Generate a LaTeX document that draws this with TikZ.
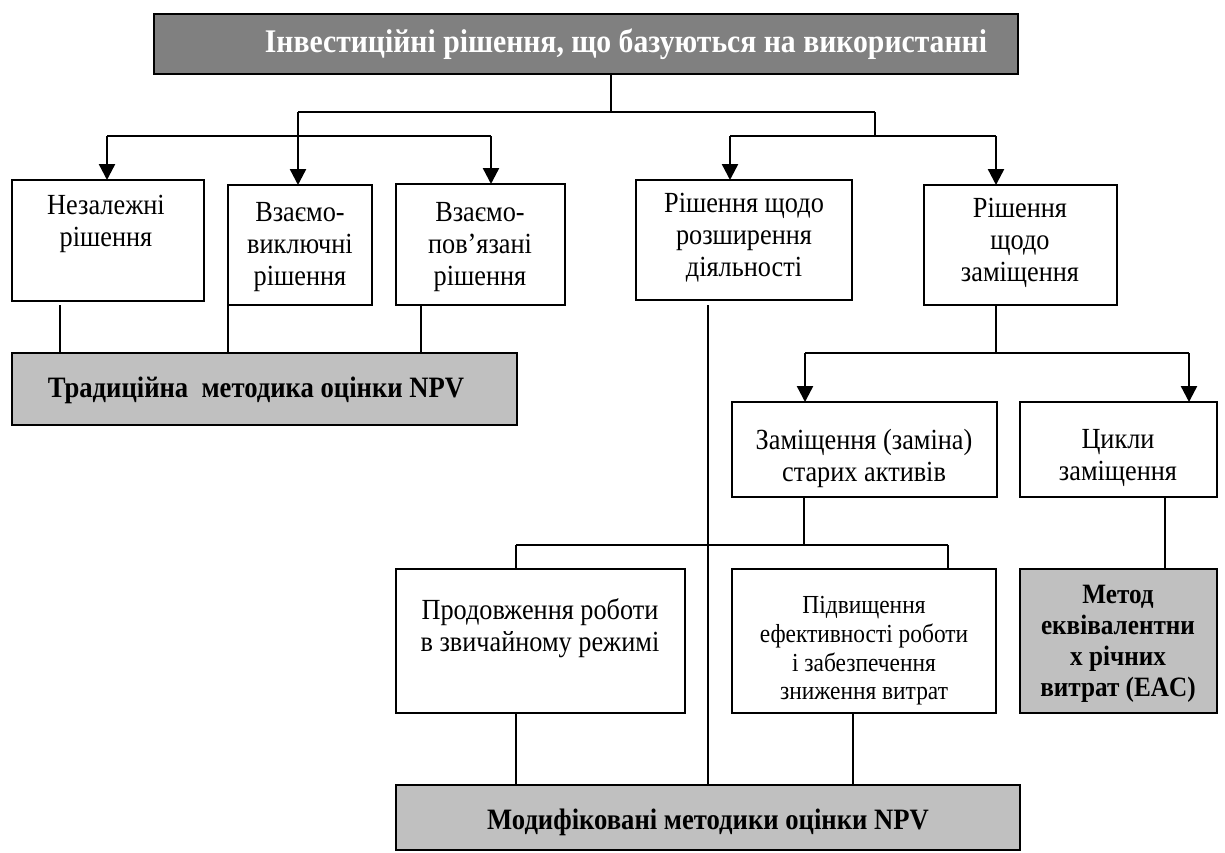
\documentclass[tikz,border=0pt]{standalone}
\usepackage{fontspec}
\setmainfont{Liberation Serif}[FakeStretch=0.9]
\usetikzlibrary{arrows.meta,calc}
\definecolor{darkfill}{HTML}{808080}
\definecolor{lightfill}{HTML}{C0C0C0}

\begin{document}
\begin{tikzpicture}[x=0.5pt,y=-0.5pt,
  box/.style={draw, line width=1.1pt, anchor=north west, inner sep=0pt, outer sep=0pt},
  conn/.style={line width=1pt},
  arr/.style={line width=1.2pt, -{Triangle[length=8pt,width=8pt]}},
  txt/.style={align=center, inner sep=0pt, font=\fontsize{14.6}{16}\selectfont},
  smalltxt/.style={align=center, inner sep=0pt, font=\fontsize{13}{14.3}\selectfont},
  btxt/.style={align=center, inner sep=0pt, font=\fontsize{14.8}{16}\selectfont\bfseries}
]
\useasboundingbox (0,0) rectangle (1225,852);

% ---- boxes ----
\node[box, fill=darkfill, minimum width=432pt, minimum height=30pt] (T) at (154,14) {};
\node[box, minimum width=96pt,  minimum height=60.5pt] (nez) at (12,180) {};
\node[box, minimum width=72pt,  minimum height=60pt]   (vyk) at (228,185) {};
\node[box, minimum width=84.5pt,minimum height=60.5pt] (pov) at (396,184) {};
\node[box, minimum width=108pt, minimum height=60pt]   (roz) at (636,180) {};
\node[box, minimum width=96.5pt,minimum height=60pt]   (zam) at (924,185) {};
\node[box, fill=lightfill, minimum width=252.5pt, minimum height=36pt] (trad) at (12,353) {};
\node[box, minimum width=132.5pt, minimum height=47.5pt] (zz)  at (732,402) {};
\node[box, minimum width=98.5pt,  minimum height=47.5pt] (cyk) at (1020,402) {};
\node[box, minimum width=144.5pt, minimum height=72pt]   (prod) at (396,569) {};
\node[box, minimum width=132pt,   minimum height=72pt]   (pidv) at (732,569) {};
\node[box, fill=lightfill, minimum width=98.5pt, minimum height=72pt] (eac) at (1020,569) {};
\node[box, fill=lightfill, minimum width=312pt, minimum height=32.5pt] (mod) at (396,785) {};

% ---- texts ----
\node[align=center, inner sep=0pt, text=white, font=\fontsize{16.5}{18}\selectfont\bfseries] (tT) at (626,44)
  {Інвестиційні рішення, що базуються на використанні};
\node[txt] (tnez) at (106,224) {Незалежні\\рішення};
\node[txt] (tvyk) at (300,247) {Взаємо-\\виключні\\рішення};
\node[txt] (tpov) at (480,247) {Взаємо-\\пов’язані\\рішення};
\node[txt] (troz) at (744,238) {Рішення щодо\\розширення\\діяльності};
\node[txt] (tzam) at (1020,243) {Рішення\\щодо\\заміщення};
\node[btxt] (ttrad) at (256,390) {Традиційна\ \ методика оцінки NPV};
\node[txt] (tzz) at (864,458) {Заміщення (заміна)\\старих активів};
\node[txt] (tcyk) at (1118,458) {Цикли\\заміщення};
\node[txt] (tprod) at (540,628) {Продовження роботи\\в звичайному режимі};
\node[smalltxt] (tpidv) at (864,651) {Підвищення\\ефективності роботи\\і забезпечення\\зниження витрат};
\node[align=center, inner sep=0pt, font=\fontsize{14}{15.5}\selectfont\bfseries] (teac) at (1118,644)
  {Метод\\еквівалентни\\х річних\\витрат (EAC)};
\node[btxt] (tmod) at (708,822) {Модифіковані методики оцінки NPV};

% ---- first level branching ----
\coordinate (j0) at (611,112);
\coordinate (jL) at (298,112);
\coordinate (jR) at (875,112);
\draw[conn] (T.south -| j0) -- (j0);
\draw[conn] (jL) -- (jR);
\coordinate (hL) at (298,136);
\coordinate (a1) at (107,136);
\coordinate (a3) at (491,136);
\draw[conn] (jL) -- (hL);
\draw[conn] (a1) -- (a3);
\draw[arr] (a1) -- (a1 |- nez.north);
\draw[arr] (hL) -- (hL |- vyk.north);
\draw[arr] (a3) -- (a3 |- pov.north);
\coordinate (hR) at (875,136);
\coordinate (a4) at (730,136);
\coordinate (a5) at (996,136);
\draw[conn] (jR) -- (hR);
\draw[conn] (a4) -- (a5);
\draw[arr] (a4) -- (a4 |- roz.north);
\draw[arr] (a5) -- (a5 |- zam.north);

% ---- links to the traditional method ----
\coordinate (b1) at (60,305);
\draw[conn] (b1) -- (b1 |- trad.north);
\draw[conn] (vyk.south west) -- (vyk.south west |- trad.north);
\coordinate (b3) at (421,0);
\draw[conn] (pov.south -| b3) -- (trad.north -| b3);

% ---- replacement branch ----
\coordinate (hZ) at (996,353);
\coordinate (a6) at (805,353);
\coordinate (a7) at (1189,353);
\draw[conn] (zam.south -| hZ) -- (hZ);
\draw[conn] (a6) -- (a7);
\draw[arr] (a6) -- (a6 |- zz.north);
\draw[arr] (a7) -- (a7 |- cyk.north);

\coordinate (hZZ) at (804,545);
\coordinate (a8) at (516,545);
\coordinate (a9) at (948,545);
\draw[conn] (zz.south -| hZZ) -- (hZZ);
\draw[conn] (a8) -- (a9);
\draw[conn] (a8) -- (a8 |- prod.north);
\draw[conn] (a9) -- (a9 |- pidv.north);

\coordinate (b5) at (1165,0);
\draw[conn] (cyk.south -| b5) -- (eac.north -| b5);

% ---- links to the modified methods ----
\coordinate (b4) at (708,305);
\draw[conn] (b4) -- (b4 |- mod.north);
\draw[conn] (prod.south -| a8) -- (mod.north -| a8);
\coordinate (b6) at (853,0);
\draw[conn] (pidv.south -| b6) -- (mod.north -| b6);
\end{tikzpicture}
\end{document}
